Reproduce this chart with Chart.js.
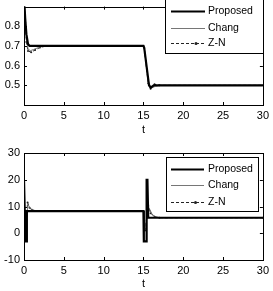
<!DOCTYPE html>
<html lang="en">
<head>
    <meta charset="UTF-8">
    <title>Proposed vs Chang vs Z-N</title>
    <script src="https://cdn.jsdelivr.net/npm/chart.js"></script>
    <style>
        body { margin: 0; background: #fff; width: 273px; height: 291px; overflow: hidden; position: relative; }
        canvas { position: absolute; left: 0; }
        #topChart { top: -4px; }
        #bottomChart { top: 140px; }
    </style>
</head>
<body>
    <canvas id="topChart"></canvas>
    <canvas id="bottomChart"></canvas>
    <script>
        // tick labels
        const xTicks = [0, 5, 10, 15, 20, 25, 30];
        const topYTicks = [0.5, 0.6, 0.7, 0.8];
        const bottomYTicks = [-10, 0, 10, 20, 30];

        // top plot: output response
        const propTopT = [0, 0.15, 0.3, 0.5, 0.7, 15.0, 15.1, 15.7, 15.9, 16.3, 30];
        const propTopY = [0.95, 0.84, 0.76, 0.71, 0.70, 0.70, 0.69, 0.50, 0.488, 0.50, 0.50];
        const changTopT = [0, 0.15, 0.3, 0.5, 0.8, 1.2, 1.8, 2.6, 15.0, 15.1, 15.6, 16.0, 16.5, 17.2, 30];
        const changTopY = [0.95, 0.83, 0.74, 0.685, 0.676, 0.682, 0.692, 0.70, 0.70, 0.69, 0.52, 0.486, 0.495, 0.50, 0.50];
        const znTopT = [0, 0.15, 0.3, 0.5, 0.9, 1.4, 2.0, 2.8, 15.0, 15.1, 15.6, 15.9, 16.4, 17.0, 30];
        const znTopY = [0.95, 0.82, 0.72, 0.675, 0.668, 0.68, 0.692, 0.70, 0.70, 0.69, 0.51, 0.482, 0.505, 0.50, 0.50];

        // bottom plot: control signal
        const propBotT = [0, 0.12, 0.18, 0.3, 0.36, 15.0, 15.05, 15.35, 15.4, 15.5, 15.6, 30];
        const propBotY = [20, 20, -3, -3, 8.3, 8.3, -3, -3, 20, 20, 5.8, 5.8];
        const changBotT = [0, 0.2, 0.5, 0.8, 1.2, 1.8, 15.0, 15.2, 15.7, 16.1, 16.6, 17.5, 30];
        const changBotY = [12, 2, 10.8, 9.2, 8.6, 8.3, 8.3, 2, 9.5, 7.0, 6.0, 5.8, 5.8];
        const znBotT = [0, 0.2, 0.45, 0.7, 1.0, 1.5, 15.0, 15.2, 15.6, 15.9, 16.4, 17.0, 30];
        const znBotY = [13, 1, 11.5, 9.5, 8.8, 8.3, 8.3, 1, 10.5, 7.5, 6.2, 5.8, 5.8];

        const FONT = "'Liberation Sans', Arial, sans-serif";

        function pts(t, v) {
            return t.map((x, i) => ({ x: x, y: v[i] }));
        }

        function makeDatasets(pT, pY, cT, cY, zT, zY) {
            return [
                { label: 'Proposed', data: pts(pT, pY), borderColor: '#000', borderWidth: 2.2, pointRadius: 0, tension: 0 },
                { label: 'Chang', data: pts(cT, cY), borderColor: '#666', borderWidth: 0.9, pointRadius: 0, tension: 0 },
                { label: 'Z-N', data: pts(zT, zY), borderColor: '#222', borderWidth: 1, borderDash: [3, 2],
                  pointRadius: 1, pointBackgroundColor: '#222', pointBorderWidth: 0, tension: 0 }
            ];
        }

        // box around axes, inward tick marks on all sides, and a boxed legend
        const matlabFrame = {
            id: 'matlabFrame',
            afterDatasetsDraw(chart, args, opts) {
                const ctx = chart.ctx;
                const a = chart.chartArea;
                const xs = chart.scales.x, ys = chart.scales.y;
                ctx.save();
                ctx.strokeStyle = '#000';
                ctx.lineWidth = 1;
                ctx.strokeRect(Math.round(a.left) + 0.5, Math.round(a.top) + 0.5,
                    Math.round(a.right - a.left), Math.round(a.bottom - a.top));
                ctx.beginPath();
                xs.ticks.forEach(tk => {
                    const px = Math.round(xs.getPixelForValue(tk.value)) + 0.5;
                    ctx.moveTo(px, a.bottom); ctx.lineTo(px, a.bottom - 3);
                    ctx.moveTo(px, a.top); ctx.lineTo(px, a.top + 3);
                });
                ys.ticks.forEach(tk => {
                    const py = Math.round(ys.getPixelForValue(tk.value)) + 0.5;
                    ctx.moveTo(a.left, py); ctx.lineTo(a.left + 3, py);
                    ctx.moveTo(a.right, py); ctx.lineTo(a.right - 3, py);
                });
                ctx.stroke();

                // legend
                const L = opts.box;
                ctx.fillStyle = '#fff';
                ctx.fillRect(L.x, L.y, L.w, L.h);
                ctx.strokeRect(L.x + 0.5, L.y + 0.5, L.w, L.h);
                ctx.font = '10.5px ' + FONT;
                ctx.textBaseline = 'middle';
                chart.data.datasets.forEach((ds, i) => {
                    const y = Math.round(L.rows[i]) + 0.5;
                    ctx.beginPath();
                    ctx.strokeStyle = ds.borderColor;
                    ctx.lineWidth = ds.borderWidth;
                    ctx.setLineDash(ds.borderDash || []);
                    ctx.moveTo(L.lineX0, y);
                    ctx.lineTo(L.lineX1, y);
                    ctx.stroke();
                    ctx.setLineDash([]);
                    if (ds.pointRadius) {
                        ctx.fillStyle = ds.borderColor;
                        ctx.beginPath();
                        ctx.arc((L.lineX0 + L.lineX1) / 2 + 8, y, 1.5, 0, Math.PI * 2);
                        ctx.fill();
                    }
                    ctx.fillStyle = '#000';
                    ctx.fillText(ds.label, L.textX, y);
                });
                ctx.restore();
            }
        };

        function makeChart(id, w, h, yMin, yMax, yTicks, datasets, padTop, xHeight, titlePad, legendBox) {
            const el = document.getElementById(id);
            el.width = w; el.height = h;
            el.style.width = w + 'px'; el.style.height = h + 'px';
            return new Chart(el, {
                type: 'line',
                data: { datasets: datasets },
                plugins: [matlabFrame],
                options: {
                    responsive: false,
                    animation: false,
                    devicePixelRatio: 1,
                    layout: { padding: { left: 0, right: 10, top: padTop, bottom: 0 } },
                    plugins: {
                        legend: { display: false },
                        tooltip: { enabled: false },
                        matlabFrame: { box: legendBox }
                    },
                    scales: {
                        x: {
                            type: 'linear', min: 0, max: 30,
                            afterBuildTicks: s => { s.ticks = xTicks.map(v => ({ value: v })); },
                            afterFit: s => { s.height = xHeight; },
                            grid: { display: false, drawTicks: false },
                            border: { display: false },
                            ticks: { color: '#000', font: { family: FONT, size: 11 }, padding: 4, maxRotation: 0 },
                            title: { display: true, text: 't', color: '#000', font: { family: FONT, size: 11 }, padding: { top: 0, bottom: titlePad } }
                        },
                        y: {
                            type: 'linear', min: yMin, max: yMax,
                            afterBuildTicks: s => { s.ticks = yTicks.map(v => ({ value: v })); },
                            afterFit: s => { s.width = 24; },
                            grid: { display: false, drawTicks: false },
                            border: { display: false },
                            ticks: { color: '#000', font: { family: FONT, size: 11 }, padding: 4 }
                        }
                    }
                }
            });
        }

        makeChart('topChart', 273, 145, 0.4, 0.9, topYTicks,
            makeDatasets(propTopT, propTopY, changTopT, changTopY, znTopT, znTopY),
            0, 36, 4,
            { x: 165, y: -1, w: 98, h: 58, rows: [15, 32, 47], lineX0: 171, lineX1: 205, textX: 208 });

        makeChart('bottomChart', 273, 151, -10, 30, bottomYTicks,
            makeDatasets(propBotT, propBotY, changBotT, changBotY, znBotT, znBotY),
            13, 31, 0,
            { x: 166, y: 17, w: 92, h: 54, rows: [29, 45, 62], lineX0: 171, lineX1: 204, textX: 208 });
    </script>
</body>
</html>
